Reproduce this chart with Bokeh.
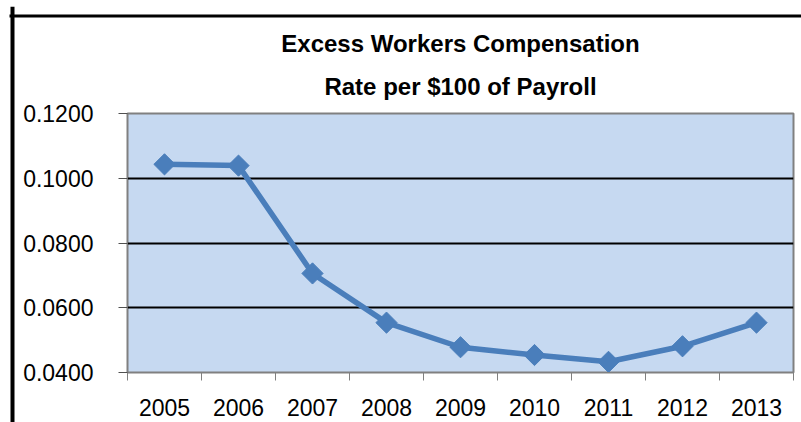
import numpy as np
from bokeh.plotting import figure
from bokeh.models import FixedTicker, NumeralTickFormatter, Range1d, Title
from bokeh.embed import file_html
from bokeh.resources import INLINE

years = ["2005", "2006", "2007", "2008", "2009", "2010", "2011", "2012", "2013"]
rates = [0.1043, 0.1039, 0.0706, 0.0554, 0.0478, 0.0454, 0.0433, 0.0481, 0.0554]
y_ticks = [0.04, 0.06, 0.08, 0.10, 0.12]
title_lines = ["Excess Workers Compensation", "Rate per $100 of Payroll"]

xs = list(range(len(years)))
FONT = "Liberation Sans"
LINE_COLOR = "#4A7EBB"

W, H = 801, 422
FL, FT, FBM = 127, 113, 50
p = figure(width=W, height=H, output_backend="svg", toolbar_location=None,
           x_range=Range1d(-0.5, len(years) - 0.5),
           y_range=Range1d(y_ticks[0], y_ticks[-1]),
           min_border_left=FL, min_border_right=8, min_border_top=FT, min_border_bottom=FBM,
           background_fill_color="#C6D9F1", border_fill_color="white")

# title, two centred lines (first added sits nearest the frame)
p.add_layout(Title(text=title_lines[1], align="center", text_font=FONT,
                   text_font_size="24px", text_font_style="bold", text_color="black",
                   standoff=28), "above")
p.add_layout(Title(text=title_lines[0], align="center", text_font=FONT,
                   text_font_size="24px", text_font_style="bold", text_color="black",
                   standoff=0), "above")

# outer chart border, top edge: a thin padded black box in the outermost title slot
p.add_layout(Title(text=" ", align="left", offset=9 - FL, text_font=FONT, text_font_size="1px",
                   padding=(396, 1), background_fill_color="black",
                   background_fill_alpha=1, standoff=20), "above")

p.outline_line_color = "#808080"
p.outline_line_width = 2

# x axis
xa = p.xaxis[0]
xa.ticker = FixedTicker(ticks=xs, minor_ticks=[i - 0.5 for i in range(len(years) + 1)])
xa.major_label_overrides = {i: y for i, y in enumerate(years)}
xa.major_tick_line_color = None
xa.major_tick_out = 0
xa.major_tick_in = 0
xa.minor_tick_out = 8
xa.minor_tick_in = 0
xa.minor_tick_line_color = "#808080"
xa.axis_line_color = "#808080"
xa.major_label_text_font = FONT
xa.major_label_text_font_size = "23px"
xa.major_label_text_color = "black"
xa.major_label_standoff = 18

# y axis
ya = p.yaxis[0]
ya.ticker = FixedTicker(ticks=y_ticks)
ya.formatter = NumeralTickFormatter(format="0.0000")
ya.major_tick_out = 9
ya.major_tick_in = 0
ya.minor_tick_line_color = None
ya.major_tick_line_color = "#505050"
ya.axis_line_color = "#808080"
ya.major_label_text_font = FONT
ya.major_label_text_font_size = "23px"
ya.major_label_text_color = "black"
ya.major_label_standoff = 25

# outer chart border, left edge: a long blank rotated title box filled black
p.add_layout(Title(text=" " * 486, align="center", text_font=FONT, text_font_size="3.5px",
                   padding=0, background_fill_color="black",
                   background_fill_alpha=1, standoff=12), "left")

p.xgrid.visible = False
p.ygrid.ticker = FixedTicker(ticks=y_ticks[1:-1])
p.ygrid.grid_line_color = "black"
p.ygrid.grid_line_width = 2

p.line(xs, rates, line_color=LINE_COLOR, line_width=5.5)
p.scatter(xs, rates, marker="square", size=15, angle=np.pi / 4,
          fill_color=LINE_COLOR, line_color=LINE_COLOR)

open("out.html", "w").write(file_html(p, INLINE))
